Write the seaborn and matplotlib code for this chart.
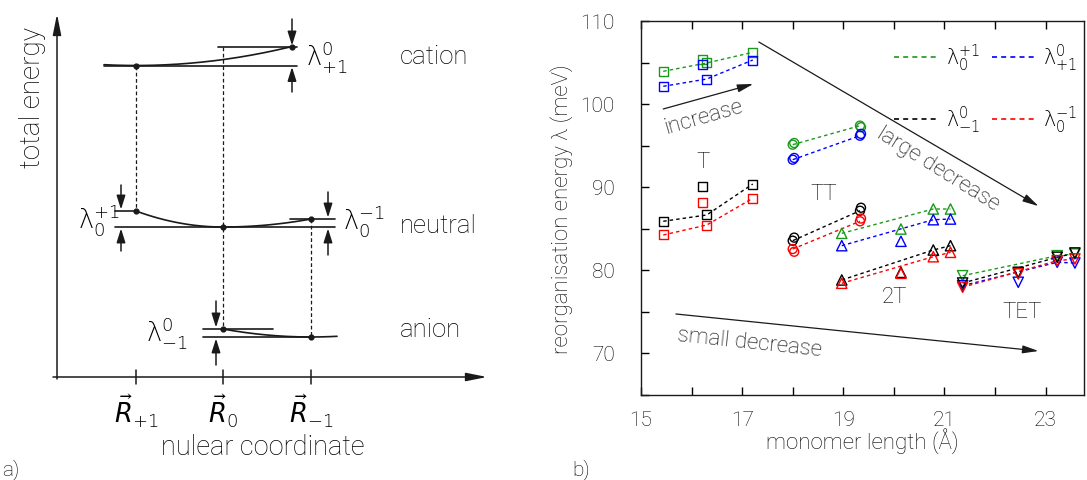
import numpy as np
import pandas as pd
import matplotlib
matplotlib.use("Agg")
import matplotlib.pyplot as plt
import seaborn as sns
from matplotlib.lines import Line2D

sns.set_theme(style="white")
plt.rcParams['font.family'] = ['Roboto', 'DejaVu Sans']
plt.rcParams['font.weight'] = 'light'
plt.rcParams['axes.labelweight'] = 'light'
plt.rcParams['text.color'] = '#000000'
plt.rcParams['axes.labelcolor'] = '#000000'
plt.rcParams['xtick.color'] = '#000000'
plt.rcParams['ytick.color'] = '#000000'
plt.rcParams['mathtext.fontset'] = 'dejavusans'

# ---------------- data (panel b) ----------------
series_names = ["green", "blue", "black", "red"]
series_colors = {"green": "#1a9a1a", "blue": "#0000ff", "black": "#000000", "red": "#ff0000"}
legend_labels = {"green": r"$\mathrm{\lambda}_0^{+1}$", "blue": r"$\mathrm{\lambda}_{+1}^{0}$",
                 "black": r"$\mathrm{\lambda}_{-1}^{0}$", "red": r"$\mathrm{\lambda}_0^{-1}$"}

T_x = [15.44, 16.21, 16.30, 17.21]
T_green = [103.94, 105.42, 104.94, 106.23]
T_blue = [102.13, 104.70, 103.01, 105.30]
T_black = [85.87, 90.04, 86.63, 90.36]
T_red = [84.22, 88.16, 85.42, 88.64]

TT_x = [18.00, 18.03, 19.33, 19.35]
TT_green = [95.10, 95.30, 97.39, 97.20]
TT_blue = [93.29, 93.50, 96.18, 96.40]
TT_black = [83.53, 83.90, 87.14, 87.50]
TT_red = [82.53, 82.20, 85.87, 86.20]

T2_x = [18.97, 20.14, 20.78, 21.12]
T2_green = [84.42, 84.94, 87.35, 87.35]
T2_blue = [82.93, 83.46, 86.06, 86.14]
T2_black = [78.80, 79.72, 82.41, 82.93]
T2_red = [78.40, 79.60, 81.60, 82.13]

TET_x = [21.36, 22.46, 23.23, 23.58]
TET_green = [79.31, 79.60, 81.72, 81.93]
TET_blue = [78.11, 78.52, 80.93, 80.84]
TET_black = [78.43, 79.72, 81.53, 82.05]
TET_red = [77.92, 79.52, 81.12, 81.33]

groups = [
    ("T", T_x, {"green": T_green, "blue": T_blue, "black": T_black, "red": T_red}, "s", [0, 2, 3]),
    ("TT", TT_x, {"green": TT_green, "blue": TT_blue, "black": TT_black, "red": TT_red}, "o", [0, 2]),
    ("2T", T2_x, {"green": T2_green, "blue": T2_blue, "black": T2_black, "red": T2_red}, "^", [0, 2, 3]),
    ("TET", TET_x, {"green": TET_green, "blue": TET_blue, "black": TET_black, "red": TET_red}, "v", [0, 2, 3]),
]

rows = []
for gname, gx, gy, mk, conn in groups:
    for s in series_names:
        for i, (xv, yv) in enumerate(zip(gx, gy[s])):
            rows.append(dict(group=gname, series=s, x=xv, y=yv, idx=i, connected=i in conn))
df = pd.DataFrame(rows)

# ---------------- schematic data (panel a), in panel pixel units ----------------
R_pos = [136, 223, 311]                 # R_{+1}, R_0, R_{-1}
R_labels = [r"$\vec{R}_{+1}$", r"$\vec{R}_{0}$", r"$\vec{R}_{-1}$"]
E_cation_min, E_cation_R0 = 66.5, 47.5
E_neutral_min, E_neutral_Rp, E_neutral_Rm = 228.0, 212.0, 220.0
E_anion_min, E_anion_R0 = 338.0, 330.0
cation_dot_x = 292
axis_y0, axis_x0 = 378, 57

FS_A = 18.5
fig = plt.figure(figsize=(10.87, 4.81), dpi=100)

# ================= panel a =================
ax0 = fig.add_axes([0, 0, 500 / 1087, 1])
ax0.set_xlim(0, 500)
ax0.set_ylim(481, 0)
ax0.axis("off")
lw = 1.2
arrow_kw = dict(arrowstyle="-|>,head_width=0.22,head_length=0.7", color="k", lw=1.1,
                shrinkA=0, shrinkB=0, mutation_scale=12)

ax0.annotate("", xy=(axis_x0, 15), xytext=(axis_x0, axis_y0 + 2),
             arrowprops=dict(arrowstyle="-|>,head_width=0.18,head_length=0.9", color="k", lw=1.1,
                             shrinkA=0, shrinkB=0, mutation_scale=14))
ax0.annotate("", xy=(487, axis_y0), xytext=(53, axis_y0),
             arrowprops=dict(arrowstyle="-|>,head_width=0.18,head_length=0.9", color="k", lw=1.1,
                             shrinkA=0, shrinkB=0, mutation_scale=14))
for xr, lab in zip(R_pos, R_labels):
    ax0.plot([xr, xr], [371, 385], color="k", lw=1.1)
    ax0.text(xr, 411, lab, ha="center", va="center", fontsize=FS_A)
ax0.text(263, 448, "nulear coordinate", ha="center", va="center", fontsize=19.5)
ax0.text(32, 97, "total energy", ha="center", va="center", rotation=90, fontsize=20)
ax0.text(2, 470, "a)", ha="left", va="center", fontsize=15)

# cation curve (min at R_{+1})
kc = (E_cation_min - E_cation_R0) / (cation_dot_x - R_pos[0]) ** 2
xc = np.linspace(104, cation_dot_x, 200)
ax0.plot(xc, E_cation_min - kc * (xc - R_pos[0]) ** 2, color="k", lw=lw)
ax0.plot([104, 297], [E_cation_min, E_cation_min], color="k", lw=lw)
ax0.plot([218, 297], [E_cation_R0, E_cation_R0], color="k", lw=lw)
ax0.annotate("", xy=(cation_dot_x, E_cation_R0 - 1), xytext=(cation_dot_x, 20), arrowprops=arrow_kw)
ax0.annotate("", xy=(cation_dot_x, E_cation_min + 1.5), xytext=(cation_dot_x, 93), arrowprops=arrow_kw)
ax0.text(306, 57, r"$\mathrm{\lambda}^{0}_{+1}$", ha="left", va="center", fontsize=FS_A)
ax0.text(400, 57, "cation", ha="left", va="center", fontsize=FS_A)

# neutral curve (min at R_0)
kl = (E_neutral_Rp - E_neutral_min) / (R_pos[0] - R_pos[1]) ** 2
kr = (E_neutral_Rm - E_neutral_min) / (R_pos[2] - R_pos[1]) ** 2
xl = np.linspace(R_pos[0], R_pos[1], 100)
xr_ = np.linspace(R_pos[1], R_pos[2], 100)
ax0.plot(xl, E_neutral_min + kl * (xl - R_pos[1]) ** 2, color="k", lw=lw)
ax0.plot(xr_, E_neutral_min + kr * (xr_ - R_pos[1]) ** 2, color="k", lw=lw)
ax0.plot([115, 335], [E_neutral_min, E_neutral_min], color="k", lw=lw)
ax0.plot([115, R_pos[0]], [E_neutral_Rp, E_neutral_Rp], color="k", lw=lw)
ax0.plot([290, 335], [E_neutral_Rm, E_neutral_Rm], color="k", lw=lw)
ax0.annotate("", xy=(121, E_neutral_Rp - 1.5), xytext=(121, 186), arrowprops=arrow_kw)
ax0.annotate("", xy=(121, E_neutral_min + 1.5), xytext=(121, 252), arrowprops=arrow_kw)
ax0.annotate("", xy=(328, E_neutral_Rm - 1.5), xytext=(328, 193), arrowprops=arrow_kw)
ax0.annotate("", xy=(328, E_neutral_min + 1.5), xytext=(328, 256), arrowprops=arrow_kw)
ax0.text(78, 220, r"$\mathrm{\lambda}_0^{+1}$", ha="left", va="center", fontsize=FS_A)
ax0.text(343, 221, r"$\mathrm{\lambda}_0^{-1}$", ha="left", va="center", fontsize=FS_A)
ax0.text(400, 226, "neutral", ha="left", va="center", fontsize=FS_A)

# anion curve (min at R_{-1})
ka = (E_anion_R0 - E_anion_min) / (R_pos[1] - R_pos[2]) ** 2
xa = np.linspace(R_pos[1], 337, 150)
ax0.plot(xa, E_anion_min + ka * (xa - R_pos[2]) ** 2, color="k", lw=lw)
ax0.plot([203, R_pos[2]], [E_anion_min, E_anion_min], color="k", lw=lw)
ax0.plot([203, 273], [E_anion_R0, E_anion_R0], color="k", lw=lw)
ax0.annotate("", xy=(216, E_anion_R0 - 1.5), xytext=(216, 302), arrowprops=arrow_kw)
ax0.annotate("", xy=(216, E_anion_min + 1.5), xytext=(216, 366), arrowprops=arrow_kw)
ax0.text(146, 333, r"$\mathrm{\lambda}^{0}_{-1}$", ha="left", va="center", fontsize=FS_A)
ax0.text(400, 330, "anion", ha="left", va="center", fontsize=FS_A)

ax0.plot([R_pos[0]] * 2, [E_cation_min, E_neutral_Rp], color="k", lw=0.9, ls=(0, (3, 2)))
ax0.plot([R_pos[1]] * 2, [E_cation_R0, E_anion_R0], color="k", lw=0.9, ls=(0, (3, 2)))
ax0.plot([R_pos[2]] * 2, [E_neutral_Rm, E_anion_min], color="k", lw=0.9, ls=(0, (3, 2)))
dots_x = [R_pos[0], cation_dot_x, R_pos[0], R_pos[1], R_pos[2], R_pos[1], R_pos[2]]
dots_y = [E_cation_min, E_cation_R0, E_neutral_Rp, E_neutral_min, E_neutral_Rm, E_anion_R0, E_anion_min]
ax0.scatter(dots_x, dots_y, s=12, color="k", zorder=5)

# ================= panel b =================
ax = fig.add_axes([641 / 1087, 1 - 395.5 / 481, 443 / 1087, 373.5 / 481])
ax.set_facecolor("white")

for (gname, s), sub in df.groupby(["group", "series"], sort=False):
    c = series_colors[s]
    mk = [g[3] for g in groups if g[0] == gname][0]
    con = sub[sub["connected"]]
    sns.lineplot(data=con, x="x", y="y", ax=ax, color=c, lw=1.0, estimator=None,
                 sort=False, linestyle=(0, (2.5, 2.2)), legend=False)
    sns.scatterplot(data=sub, x="x", y="y", ax=ax, marker=mk, s=55 if mk in "^v" else 42,
                    facecolor="none", edgecolor=c, linewidth=1.0, legend=False, zorder=3)

FS_T = 15
FS_B = 16
ax.set_xlim(15, 23.76)
ax.set_ylim(65, 110)
ax.set_xticks(np.arange(15, 24, 1))
ax.set_xticklabels([str(v) if v % 2 == 1 else "" for v in range(15, 24)])
ax.set_yticks(np.arange(65, 111, 5))
ax.set_yticklabels([str(v) if v % 10 == 0 else "" for v in range(65, 111, 5)])
ax.tick_params(axis="x", direction="in", length=6, width=1, top=True, bottom=True,
               labelsize=FS_T, pad=11)
ax.tick_params(axis="y", direction="in", length=6, width=1, left=True, right=False,
               labelsize=FS_T, pad=19)
for sp in ax.spines.values():
    sp.set_visible(True)
    sp.set_color("k")
    sp.set_linewidth(1.0)
ax.set_xlabel("monomer length (Å)", fontsize=FS_B, labelpad=-1)
ax.set_ylabel("reorganisation energy λ (meV)", fontsize=FS_B, labelpad=5)

akw = dict(arrowstyle="-|>,head_width=0.2,head_length=0.8", color="k", lw=0.9,
           shrinkA=0, shrinkB=0, mutation_scale=12)
ax.annotate("", xy=(17.22, 102.41), xytext=(15.44, 99.40), arrowprops=akw)
ax.text(16.23, 98.5, "increase", ha="center", va="center", rotation=16, fontsize=FS_B)
ax.annotate("", xy=(22.86, 87.7), xytext=(17.33, 107.47), arrowprops=akw)
ax.text(20.87, 92.3, "large decrease", ha="center", va="center", rotation=-32, fontsize=FS_B)
ax.annotate("", xy=(22.86, 70.24), xytext=(15.69, 74.70), arrowprops=akw)
ax.text(17.15, 71.3, "small decrease", ha="center", va="center", rotation=-6, fontsize=FS_B)
ax.text(16.23, 93.1, "T", ha="center", va="center", fontsize=FS_B)
ax.text(18.62, 89.16, "TT", ha="center", va="center", fontsize=FS_B)
ax.text(20.02, 76.75, "2T", ha="center", va="center", fontsize=FS_B)
ax.text(22.53, 75.06, "TET", ha="center", va="center", fontsize=FS_B)

order = ["green", "black", "blue", "red"]
handles = [Line2D([], [], color=series_colors[s], lw=1.2, ls=(0, (3, 2.5))) for s in order]
ax.legend(handles, [legend_labels[s] for s in order], ncol=2, frameon=False,
          loc="center", bbox_to_anchor=(0.779, 0.82), fontsize=15,
          handlelength=2.1, handletextpad=0.35, columnspacing=0.6, labelspacing=1.5,
          borderpad=0, borderaxespad=0)

fig.text(572 / 1087, 1 - 470 / 481, "b)", ha="left", va="center", fontsize=15)

fig.savefig("out.png", dpi=100, facecolor="white")
